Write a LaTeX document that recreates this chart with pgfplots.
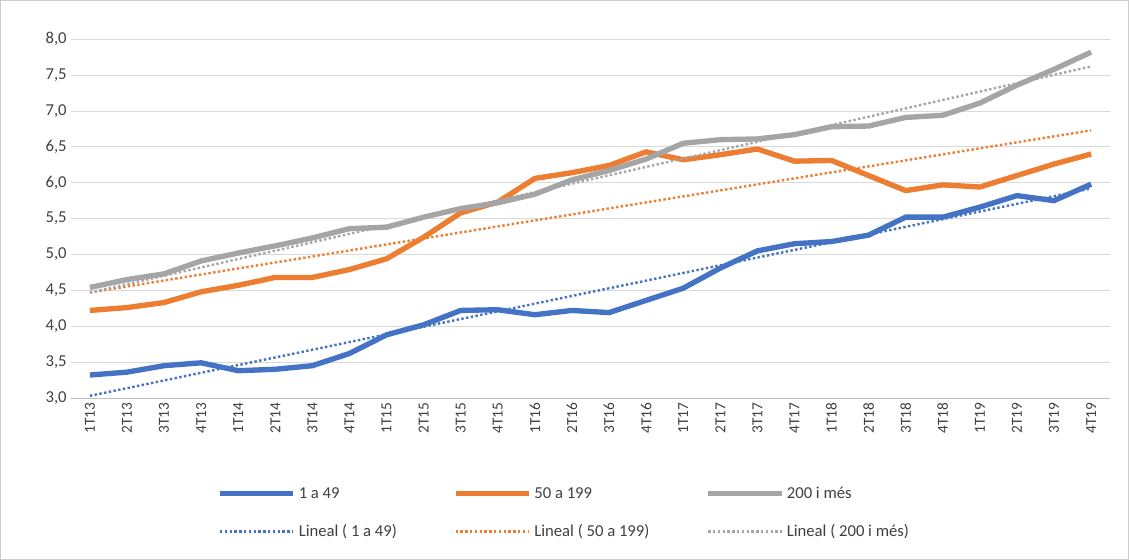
\documentclass[border=0pt]{standalone}
\usepackage{pgfplots}
\pgfplotsset{compat=1.18}
\usepackage{fontspec}
\setmainfont{Carlito}
\definecolor{cb}{HTML}{4472C4}
\definecolor{co}{HTML}{ED7D31}
\definecolor{cg}{HTML}{A5A5A5}
\begin{document}
\begin{tikzpicture}
\draw[draw=black!20,line width=0.6pt] (0.4pt,0.4pt) rectangle (846.3pt,419.6pt);
\begin{axis}[at={(53.6pt,121.5pt)},anchor=south west,scale only axis,
 width=778.5pt,height=269pt,
 xmin=-0.5,xmax=27.5,ymin=3,ymax=8,
 ytick={3,3.5,...,8},
 yticklabel={\pgfmathprintnumber[fixed,fixed zerofill,precision=1,use comma]{\tick}},
 /pgf/number format/assume math mode=true,
 xtick={0,...,27},
 xticklabels={1T13,2T13,3T13,4T13,1T14,2T14,3T14,4T14,1T15,2T15,3T15,4T15,1T16,2T16,3T16,4T16,1T17,2T17,3T17,4T17,1T18,2T18,3T18,4T18,1T19,2T19,3T19,4T19},
 xticklabel style={rotate=90,anchor=east,font=\fontsize{11.5}{12}\selectfont,text=black!75},
 yticklabel style={font=\fontsize{12.5}{13}\selectfont,text=black!75},
 ymajorgrids,grid style={black!15,line width=0.6pt},
 axis x line*=bottom,axis y line*=left,
 y axis line style={draw=none},
 x axis line style={black!25,-},
 major tick length=0pt,
 legend columns=3,
 legend style={draw=none,at={(0.475,-0.32)},anchor=center,font=\fontsize{12.5}{14}\selectfont,text=black!75,
   /tikz/every even column/.append style={column sep=40pt},row sep=14pt},
 legend cell align=left,
 legend image code/.code={\draw[#1] (0pt,0pt) -- (55pt,0pt);},
]
\addplot[cb,line width=4pt] coordinates {(0,3.32)(1,3.36)(2,3.45)(3,3.49)(4,3.38)(5,3.40)(6,3.45)(7,3.62)(8,3.88)(9,4.02)(10,4.22)(11,4.23)(12,4.16)(13,4.22)(14,4.19)(15,4.36)(16,4.53)(17,4.81)(18,5.05)(19,5.15)(20,5.18)(21,5.27)(22,5.52)(23,5.52)(24,5.66)(25,5.82)(26,5.75)(27,5.98)};
\addlegendentry{1 a 49}
\addplot[co,line width=4pt] coordinates {(0,4.22)(1,4.26)(2,4.33)(3,4.48)(4,4.57)(5,4.68)(6,4.68)(7,4.79)(8,4.94)(9,5.24)(10,5.58)(11,5.73)(12,6.06)(13,6.14)(14,6.24)(15,6.43)(16,6.32)(17,6.39)(18,6.47)(19,6.30)(20,6.31)(21,6.10)(22,5.89)(23,5.97)(24,5.94)(25,6.10)(26,6.26)(27,6.40)};
\addlegendentry{50 a 199}
\addplot[cg,line width=4pt] coordinates {(0,4.54)(1,4.65)(2,4.73)(3,4.91)(4,5.02)(5,5.12)(6,5.23)(7,5.36)(8,5.38)(9,5.52)(10,5.64)(11,5.72)(12,5.84)(13,6.04)(14,6.17)(15,6.33)(16,6.55)(17,6.60)(18,6.61)(19,6.67)(20,6.78)(21,6.79)(22,6.91)(23,6.94)(24,7.11)(25,7.36)(26,7.58)(27,7.82)};
\addlegendentry{200 i més}
\addplot[cb,line width=1.8pt,dash pattern=on 1.8pt off 1.8pt] coordinates {(0,3.03)(27,5.92)};
\addlegendentry{Lineal ( 1 a 49)}
\addplot[co,line width=1.8pt,dash pattern=on 1.8pt off 1.8pt] coordinates {(0,4.47)(27,6.73)};
\addlegendentry{Lineal ( 50 a 199)}
\addplot[cg,line width=1.8pt,dash pattern=on 1.8pt off 1.8pt] coordinates {(0,4.47)(27,7.62)};
\addlegendentry{Lineal ( 200 i més)}
\end{axis}
\end{tikzpicture}
\end{document}
